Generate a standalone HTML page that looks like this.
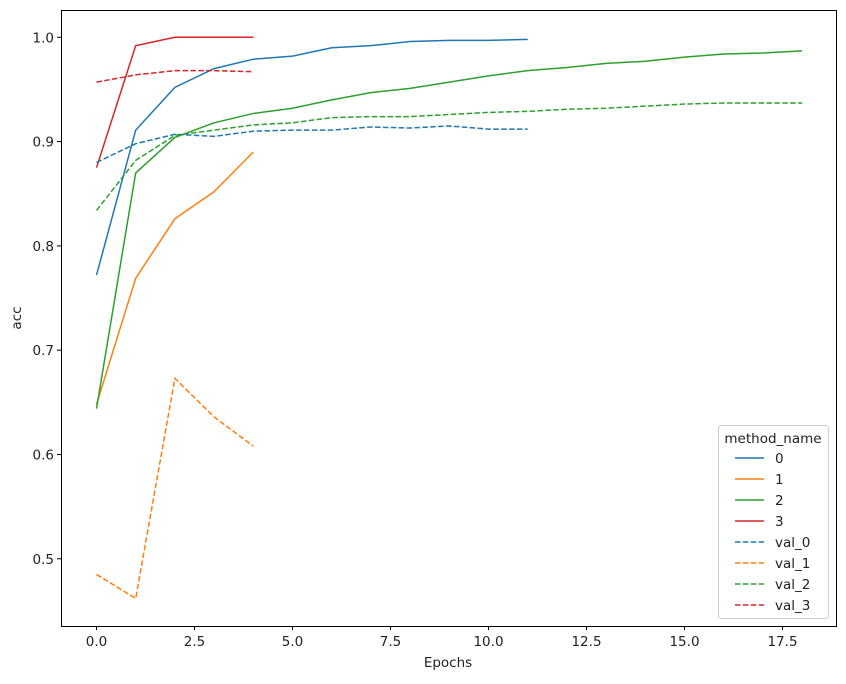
<!DOCTYPE html>
<html><head><meta charset="utf-8"><style>
body{margin:0;background:#fff}
svg text{font-family:"DejaVu Sans","Liberation Sans",sans-serif;fill:#222}
</style></head><body>
<svg id="s" width="846" height="679" xmlns="http://www.w3.org/2000/svg">
<rect x="0" y="0" width="846" height="679" fill="#fff"/>
<g id="plot"></g>
<rect x="61.5" y="10.5" width="775" height="616" fill="none" stroke="#000" stroke-width="1"/>
<g id="ticks" font-size="13.5"></g>
<text x="448" y="667" font-size="13.5" text-anchor="middle">Epochs</text>
<text x="21" y="318" font-size="13.5" text-anchor="middle" transform="rotate(-90 21 318)">acc</text>
<g id="leg"></g>
</svg>
<script>
const X=v=>96.5+v*39.2, Y=v=>37.3+(1-v)*1043;
const S=[
["#1f77b4",0,[0.772,0.911,0.952,0.970,0.979,0.982,0.990,0.992,0.996,0.997,0.997,0.998]],
["#ff7f0e",0,[0.648,0.769,0.826,0.852,0.890]],
["#2ca02c",0,[0.644,0.870,0.904,0.918,0.927,0.932,0.940,0.947,0.951,0.957,0.963,0.968,0.971,0.975,0.977,0.981,0.984,0.985,0.987]],
["#d62728",0,[0.875,0.992,1.0,1.0,1.0]],
["#1f77b4",1,[0.880,0.898,0.907,0.905,0.910,0.911,0.911,0.914,0.913,0.915,0.912,0.912]],
["#ff7f0e",1,[0.485,0.462,0.673,0.636,0.608]],
["#2ca02c",1,[0.834,0.882,0.906,0.911,0.916,0.918,0.923,0.924,0.924,0.926,0.928,0.929,0.931,0.932,0.934,0.936,0.937,0.937,0.937]],
["#d62728",1,[0.957,0.964,0.968,0.968,0.967]]];
const ns="http://www.w3.org/2000/svg";
function el(t,a,p){const e=document.createElementNS(ns,t);for(const k in a)e.setAttribute(k,a[k]);p.appendChild(e);return e;}
const P=document.getElementById("plot");
S.forEach(s=>{el("polyline",{points:s[2].map((v,i)=>X(i)+","+Y(v)).join(" "),fill:"none",stroke:s[0],"stroke-width":1.5,"stroke-dasharray":s[1]?"5.5,2.4":"none"},P);});
const T=document.getElementById("ticks");
for(let i=0;i<=7;i++){const v=i*2.5,x=X(v);el("line",{x1:x,x2:x,y1:626,y2:630,stroke:"#000"},T);el("text",{x:x,y:646,"text-anchor":"middle"},T).textContent=v.toFixed(1);}
for(let i=5;i<=10;i++){const v=i/10,y=Y(v);el("line",{x1:57,x2:61,y1:y,y2:y,stroke:"#000"},T);el("text",{x:54,y:y+5,"text-anchor":"end"},T).textContent=v.toFixed(1);}
const L=document.getElementById("leg");
el("rect",{x:718.5,y:425.5,width:110,height:193,rx:3,fill:"#fff",stroke:"#ccc","fill-opacity":0.8},L);
el("text",{x:773,y:443,"font-size":13.5,"text-anchor":"middle"},L).textContent="method_name";
const names=["0","1","2","3","val_0","val_1","val_2","val_3"];
S.forEach((s,i)=>{const y=458+i*21;el("line",{x1:735,x2:764,y1:y,y2:y,stroke:s[0],"stroke-width":1.5,"stroke-dasharray":s[1]?"5.5,2.4":"none"},L);el("text",{x:775,y:y+5,"font-size":13.5},L).textContent=names[i];});
</script>
</body></html>
